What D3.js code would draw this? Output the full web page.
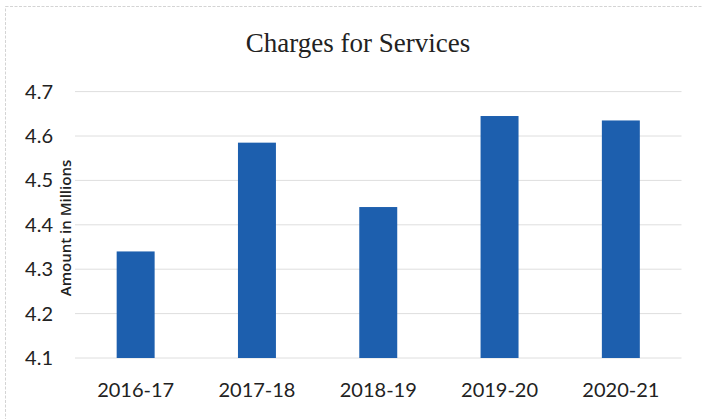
<!DOCTYPE html>
<html>
<head>
<meta charset="utf-8">
<script src="https://cdn.jsdelivr.net/npm/d3@7/dist/d3.min.js"></script>
<style>
  html, body { margin: 0; padding: 0; background: #ffffff; }
  svg { display: block; }
</style>
</head>
<body>
<svg id="chart" width="702" height="419"></svg>
<script>
// Fiscal years and charges for services (in millions)
const categories = ["2016-17", "2017-18", "2018-19", "2019-20", "2020-21"];
const values = [4.34, 4.585, 4.44, 4.645, 4.635];
const yTicks = [4.1, 4.2, 4.3, 4.4, 4.5, 4.6, 4.7];

const title = "Charges for Services";
const yTitle = "Amount in Millions";

const svg = d3.select("#chart");
const W = 702, H = 419;
const plot = { left: 75, right: 681.5, top: 91.6, bottom: 358 };

// Frame around the chart area
svg.append("rect")
  .attr("x", 5.5).attr("y", 6.5)
  .attr("width", W + 10).attr("height", H + 10)
  .attr("fill", "none")
  .attr("stroke", "#d4d4d4")
  .attr("stroke-width", 1)
  .attr("stroke-dasharray", "3,1.5");

const x = d3.scaleBand()
  .domain(categories)
  .range([plot.left, plot.right])
  .paddingInner(0.687)
  .paddingOuter(0.3435);

const y = d3.scaleLinear()
  .domain([yTicks[0], yTicks[yTicks.length - 1]])
  .range([plot.bottom, plot.top]);

// Horizontal gridlines
svg.append("g")
  .selectAll("line")
  .data(yTicks)
  .join("line")
  .attr("x1", plot.left)
  .attr("x2", plot.right)
  .attr("y1", d => y(d))
  .attr("y2", d => y(d))
  .attr("stroke", "#dedede")
  .attr("stroke-width", 1);

// Y axis labels
const yAxis = d3.axisLeft(y)
  .tickValues(yTicks)
  .tickFormat(d3.format(".1f"))
  .tickSize(0)
  .tickPadding(0);

svg.append("g")
  .attr("transform", `translate(53,0)`)
  .call(yAxis)
  .call(g => g.select(".domain").remove())
  .call(g => g.selectAll("text")
    .attr("font-family", "Lato, 'Open Sans', sans-serif")
    .attr("font-size", 20)
    .attr("fill", "#222"));

// Bars
svg.append("g")
  .selectAll("rect")
  .data(categories.map((c, i) => ({ c, v: values[i] })))
  .join("rect")
  .attr("x", d => x(d.c))
  .attr("width", x.bandwidth())
  .attr("y", d => y(d.v))
  .attr("height", d => y(yTicks[0]) - y(d.v))
  .attr("fill", "#1d5fae");

// X axis labels
const xAxis = d3.axisBottom(x).tickSize(0).tickPadding(0);
svg.append("g")
  .attr("transform", `translate(0,${plot.bottom})`)
  .call(xAxis)
  .call(g => g.select(".domain").remove())
  .call(g => g.selectAll("text")
    .attr("y", 39)
    .attr("dy", 0)
    .attr("font-family", "Lato, 'Open Sans', sans-serif")
    .attr("font-size", 20)
    .attr("fill", "#222"));

// Chart title
svg.append("text")
  .attr("x", 358)
  .attr("y", 52)
  .attr("text-anchor", "middle")
  .attr("font-family", "'Liberation Serif', serif")
  .attr("font-size", 27)
  .attr("fill", "#222")
  .text(title);

// Y axis title
svg.append("text")
  .attr("transform", "translate(70.5,228) rotate(-90)")
  .attr("text-anchor", "middle")
  .attr("font-family", "'Open Sans', sans-serif")
  .attr("font-weight", 600)
  .attr("font-size", 15)
  .attr("fill", "#222")
  .text(yTitle);
</script>
</body>
</html>
